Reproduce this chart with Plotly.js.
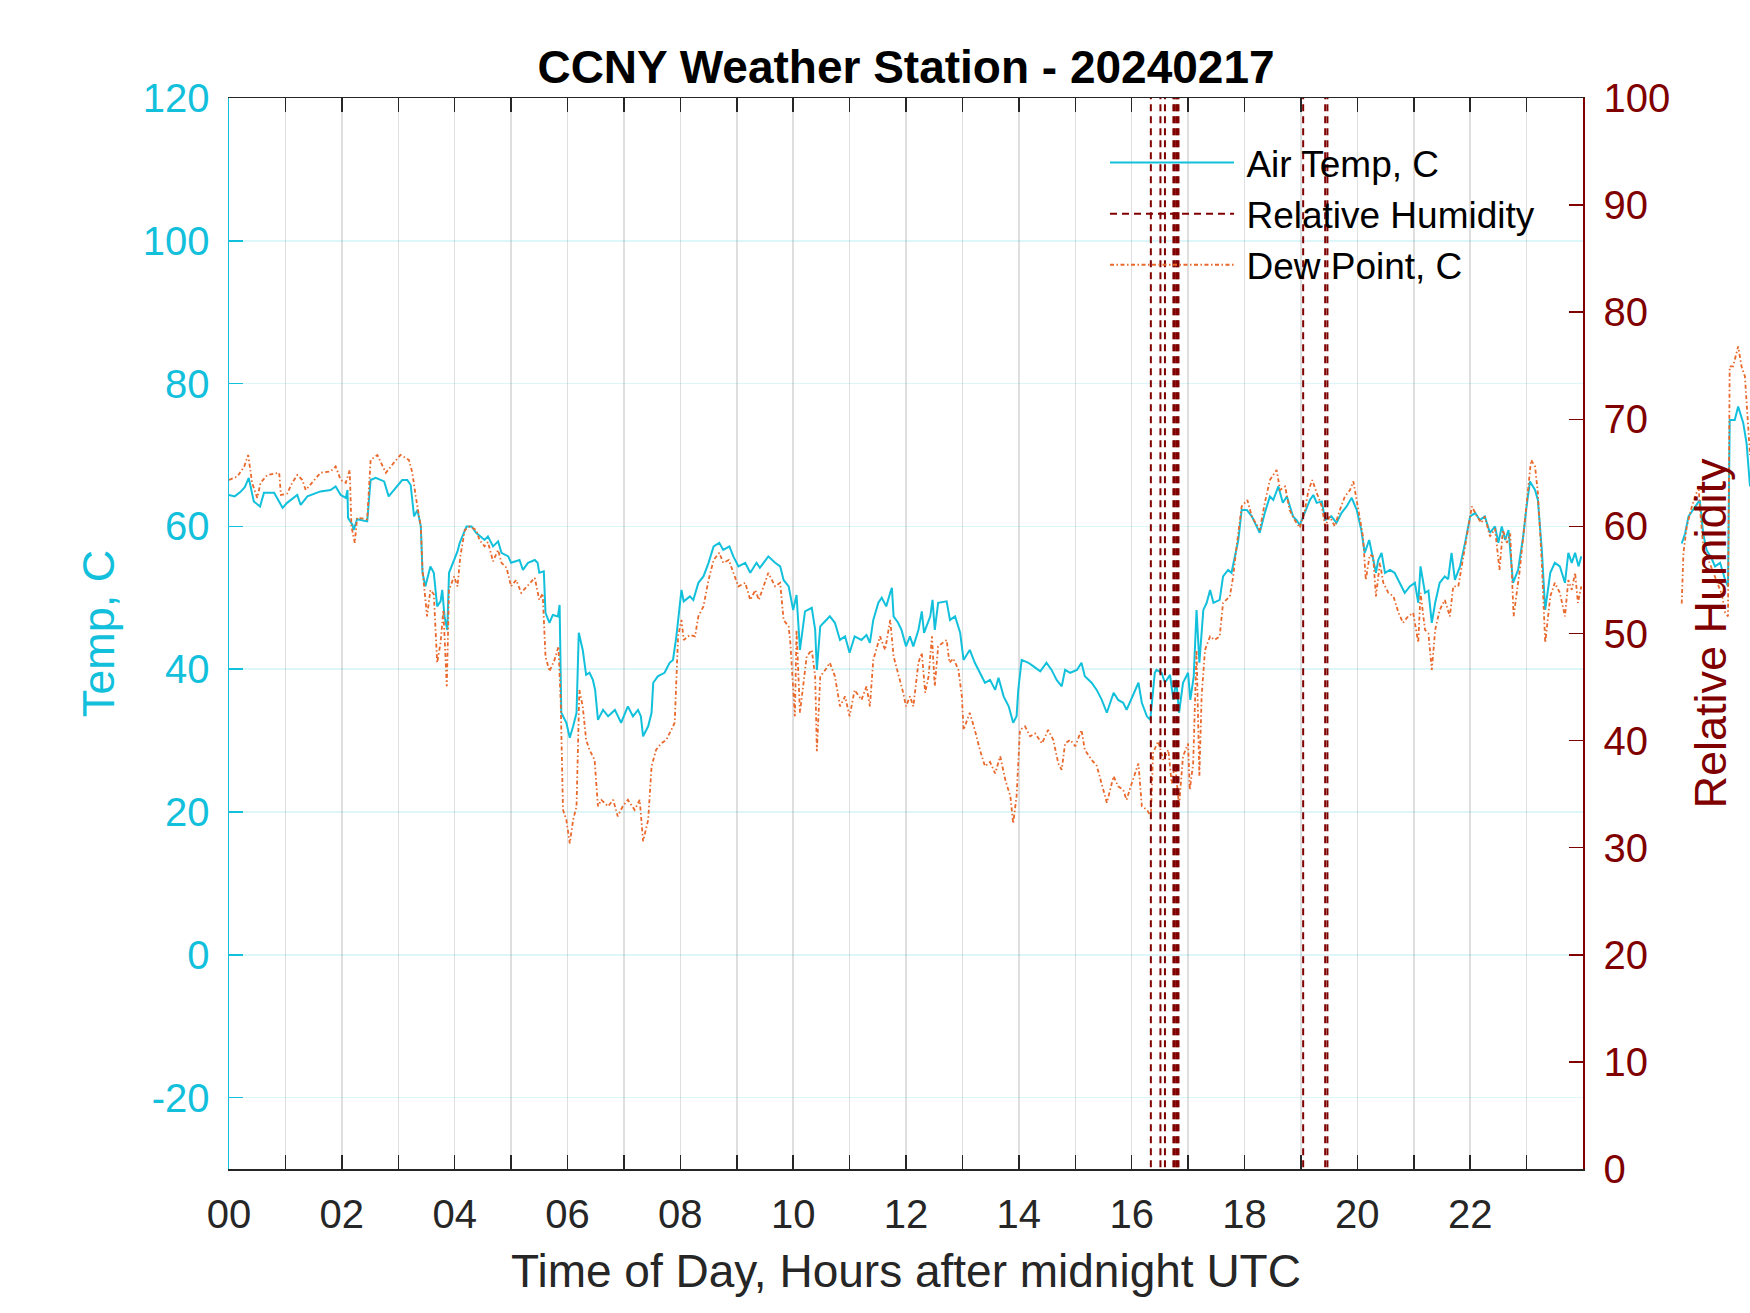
<!DOCTYPE html>
<html>
<head>
<meta charset="utf-8">
<script src="https://cdn.plot.ly/plotly-3.0.1.min.js"></script>
<style>
  html, body { margin: 0; padding: 0; background: #fff; }
  #chart { width: 1750px; height: 1313px; }
</style>
</head>
<body>
<div id="chart"></div>
<script>
/* CCNY weather station, 2024-02-17: temp and dew point on the left axis, RH on the right. */

/* ─── Data ─── */
// Air temperature, C (hours after midnight UTC); a null marks the missing stretch after 24h
const tempHours = [
  0.00, 0.10, 0.20, 0.28, 0.35, 0.44, 0.55, 0.62, 0.80, 0.95, 1.03, 1.21, 1.27, 1.39, 1.62, 1.80, 1.89, 1.98,
  2.07, 2.10, 2.11, 2.19, 2.21, 2.27, 2.45, 2.51, 2.60, 2.75, 2.83, 2.92, 3.07, 3.16, 3.22, 3.28, 3.34, 3.40,
  3.43, 3.48, 3.57, 3.63, 3.69, 3.75, 3.78, 3.82, 3.87, 3.90, 3.99, 4.05, 4.09, 4.21, 4.30, 4.38, 4.53, 4.59,
  4.68, 4.77, 4.83, 4.95, 5.00, 5.15, 5.21, 5.30, 5.42, 5.47, 5.50, 5.58, 5.61, 5.68, 5.74, 5.83, 5.86, 5.89,
  5.98, 6.04, 6.10, 6.16, 6.20, 6.27, 6.33, 6.39, 6.45, 6.49, 6.54, 6.63, 6.72, 6.84, 6.95, 7.07, 7.16, 7.25,
  7.30, 7.34, 7.43, 7.49, 7.52, 7.60, 7.72, 7.81, 7.87, 7.93, 8.02, 8.06, 8.17, 8.23, 8.32, 8.41, 8.50, 8.59,
  8.69, 8.76, 8.87, 8.94, 9.03, 9.15, 9.24, 9.35, 9.41, 9.56, 9.68, 9.77, 9.83, 9.92, 10.00, 10.06, 10.12, 10.21,
  10.33, 10.39, 10.42, 10.48, 10.54, 10.65, 10.74, 10.83, 10.92, 11.00, 11.09, 11.21, 11.30, 11.36, 11.42, 11.51,
  11.57, 11.65, 11.72, 11.75, 11.78, 11.86, 11.92, 12.00, 12.07, 12.13, 12.22, 12.28, 12.32, 12.43, 12.47, 12.51,
  12.57, 12.72, 12.78, 12.87, 12.96, 13.02, 13.13, 13.22, 13.31, 13.40, 13.49, 13.58, 13.64, 13.73, 13.82, 13.90,
  13.96, 13.99, 14.05, 14.17, 14.26, 14.38, 14.49, 14.58, 14.67, 14.76, 14.82, 14.91, 15.03, 15.11, 15.17, 15.29,
  15.38, 15.47, 15.56, 15.68, 15.76, 15.85, 15.91, 16.00, 16.12, 16.18, 16.27, 16.33, 16.41, 16.44, 16.53, 16.59,
  16.68, 16.74, 16.79, 16.84, 16.91, 17.00, 17.04, 17.10, 17.15, 17.20, 17.27, 17.33, 17.39, 17.45, 17.56, 17.62,
  17.71, 17.77, 17.83, 17.89, 17.95, 18.04, 18.13, 18.27, 18.36, 18.45, 18.51, 18.60, 18.68, 18.75, 18.86, 18.92,
  18.98, 19.07, 19.16, 19.22, 19.28, 19.37, 19.43, 19.54, 19.63, 19.72, 19.81, 19.90, 19.99, 20.07, 20.13, 20.21,
  20.28, 20.33, 20.37, 20.43, 20.49, 20.58, 20.66, 20.75, 20.84, 20.93, 21.02, 21.08, 21.12, 21.20, 21.26, 21.32,
  21.38, 21.46, 21.55, 21.61, 21.67, 21.73, 21.82, 21.91, 22.00, 22.09, 22.17, 22.26, 22.35, 22.44, 22.50, 22.56,
  22.62, 22.68, 22.76, 22.85, 22.94, 23.00, 23.06, 23.15, 23.20, 23.27, 23.33, 23.42, 23.50, 23.59, 23.68, 23.74,
  23.80, 23.86, 23.92, 23.97, 24.80,
  25.75, 25.81, 25.87, 25.95, 26.07, 26.13, 26.19, 26.28, 26.34, 26.43, 26.52, 26.57, 26.60, 26.69, 26.75, 26.84,
  26.90, 26.96
];
const tempValues = [
  64.4, 64.2, 64.8, 65.5, 66.8, 63.5, 62.8, 64.7, 64.7, 62.6, 63.3, 64.4, 63.0, 64.2, 64.9, 65.1, 65.6, 64.4,
  64.0, 65.1, 61.2, 60.2, 59.5, 61.0, 60.7, 66.5, 66.8, 66.3, 64.2, 65.1, 66.5, 66.5, 65.8, 61.4, 62.3, 60.0,
  53.5, 51.6, 54.4, 53.5, 48.8, 49.5, 51.1, 47.4, 45.5, 53.5, 55.3, 56.5, 57.7, 60.0, 60.0, 59.1, 58.1, 58.6,
  57.2, 57.9, 56.3, 55.8, 54.9, 55.3, 53.9, 54.9, 55.3, 54.9, 53.5, 53.7, 47.9, 46.5, 47.6, 47.4, 49.0, 33.9,
  32.5, 30.4, 32.0, 33.9, 45.1, 42.7, 39.2, 39.5, 38.5, 37.1, 32.9, 34.3, 33.4, 34.3, 32.5, 34.8, 33.4, 34.3,
  33.4, 30.6, 32.0, 33.9, 38.1, 39.0, 39.5, 40.9, 41.3, 44.6, 51.1, 49.5, 50.2, 49.7, 52.1, 53.0, 54.9, 57.2,
  57.7, 56.7, 57.2, 55.8, 54.4, 54.9, 53.5, 54.9, 54.2, 55.8, 54.9, 54.4, 52.5, 51.6, 48.3, 50.4, 42.7, 48.1,
  48.6, 45.5, 39.9, 46.0, 46.5, 47.4, 46.5, 44.1, 44.6, 42.3, 44.6, 44.1, 44.8, 43.7, 46.9, 49.3,
  50.0, 48.8, 50.7, 51.4, 47.4, 46.5, 45.5, 43.2, 44.6, 43.2, 45.5, 48.1, 45.1, 47.4, 49.7, 45.5,
  49.3, 49.5, 46.9, 47.4, 45.1, 41.3, 42.7, 40.9, 39.5, 38.1, 38.5, 37.1, 38.8, 36.2, 34.8, 32.5,
  33.4, 37.1, 41.3, 40.9, 40.4, 39.7, 40.9, 39.9, 38.5, 37.6, 39.9, 39.5, 39.9, 40.9, 39.0, 38.1,
  37.1, 35.7, 33.9, 36.7, 35.7, 35.3, 34.3, 35.9, 38.1, 35.3, 33.4, 32.9, 39.5, 39.9, 39.5, 38.1,
  39.2, 35.7, 38.5, 33.9, 38.1, 39.5, 35.7, 39.0, 48.3, 40.9, 48.3, 49.3, 51.1, 49.3, 49.7, 53.0,
  53.9, 53.5, 55.8, 58.1, 62.3, 62.3, 61.4, 59.1, 61.9, 64.2, 63.7, 65.6, 63.3, 64.2, 61.4, 60.9,
  60.2, 61.9, 63.7, 64.4, 63.3, 63.5, 60.9, 61.4, 60.5, 61.9, 62.8, 64.0, 62.3, 59.5, 56.3, 58.1,
  55.5, 53.5, 55.3, 56.3, 53.5, 53.9, 53.5, 52.1, 50.7, 51.6, 52.1, 49.3, 54.4, 50.7, 51.0, 46.5,
  49.3, 52.1, 53.0, 52.6, 56.3, 52.5, 54.4, 57.7, 61.4, 61.9, 60.9, 61.4, 59.1, 60.0, 57.7, 60.0,
  58.1, 59.5, 52.1, 53.9, 58.6, 62.8, 66.3, 65.1, 63.7, 56.7, 48.3, 53.5, 54.9, 54.4, 52.1, 56.3,
  54.9, 56.3, 54.4, 55.8, null,
  57.6, 59.0, 61.4, 62.3, 63.7, 59.0, 56.7, 55.5, 54.4, 54.9, 52.5, 51.6, 74.9, 74.9, 76.8, 74.5,
  71.6, 65.6
];

// Dew point, C
const dewHours = [
  0.00, 0.15, 0.27, 0.34, 0.41, 0.50, 0.56, 0.68, 0.89, 0.92, 1.03, 1.12, 1.21, 1.30, 1.36, 1.51, 1.62, 1.80,
  1.89, 1.98, 2.07, 2.14, 2.17, 2.23, 2.27, 2.45, 2.51, 2.63, 2.72, 2.78, 2.92, 3.04, 3.19, 3.25, 3.31, 3.37,
  3.40, 3.43, 3.48, 3.51, 3.57, 3.63, 3.69, 3.75, 3.80, 3.86, 3.90, 3.99, 4.05, 4.10, 4.18, 4.27, 4.38, 4.44,
  4.53, 4.59, 4.68, 4.77, 4.83, 4.92, 5.00, 5.09, 5.18, 5.33, 5.42, 5.50, 5.56, 5.61, 5.68, 5.77, 5.84, 5.88,
  5.92, 5.98, 6.04, 6.10, 6.16, 6.21, 6.27, 6.33, 6.39, 6.48, 6.54, 6.60, 6.72, 6.81, 6.89, 6.98, 7.07, 7.19,
  7.28, 7.34, 7.43, 7.49, 7.57, 7.66, 7.75, 7.84, 7.90, 7.96, 8.02, 8.06, 8.17, 8.26, 8.32, 8.41, 8.50, 8.59,
  8.69, 8.76, 8.86, 8.94, 9.03, 9.15, 9.24, 9.33, 9.39, 9.56, 9.68, 9.77, 9.83, 9.92, 9.95, 10.03, 10.06, 10.12,
  10.18, 10.24, 10.33, 10.39, 10.42, 10.48, 10.57, 10.65, 10.74, 10.83, 10.92, 11.00, 11.09, 11.21, 11.30, 11.36,
  11.42, 11.54, 11.63, 11.72, 11.78, 11.86, 11.95, 12.00, 12.07, 12.13, 12.22, 12.28, 12.34, 12.40, 12.46, 12.51,
  12.57, 12.72, 12.77, 12.84, 12.93, 12.99, 13.02, 13.13, 13.22, 13.31, 13.40, 13.49, 13.58, 13.67, 13.76, 13.85,
  13.90, 13.96, 14.02, 14.11, 14.20, 14.29, 14.41, 14.52, 14.61, 14.70, 14.76, 14.82, 14.91, 15.00, 15.11, 15.17,
  15.29, 15.38, 15.47, 15.56, 15.68, 15.76, 15.85, 15.91, 16.00, 16.12, 16.18, 16.27, 16.34, 16.38, 16.47, 16.56,
  16.65, 16.71, 16.77, 16.84, 16.91, 17.00, 17.03, 17.09, 17.15, 17.20, 17.24, 17.30, 17.39, 17.47, 17.56, 17.62,
  17.74, 17.80, 17.86, 17.95, 18.05, 18.13, 18.27, 18.36, 18.45, 18.57, 18.63, 18.72, 18.80, 18.89, 18.98, 19.07,
  19.13, 19.20, 19.28, 19.37, 19.43, 19.51, 19.60, 19.69, 19.78, 19.87, 19.93, 20.02, 20.10, 20.15, 20.22, 20.28,
  20.33, 20.40, 20.46, 20.55, 20.64, 20.73, 20.81, 20.90, 20.99, 21.08, 21.12, 21.20, 21.26, 21.32, 21.38, 21.46,
  21.55, 21.64, 21.70, 21.79, 21.88, 21.97, 22.03, 22.12, 22.20, 22.26, 22.35, 22.44, 22.52, 22.58, 22.65, 22.71,
  22.77, 22.88, 22.97, 23.03, 23.08, 23.15, 23.20, 23.27, 23.33, 23.42, 23.50, 23.59, 23.68, 23.74, 23.80, 23.86,
  23.91, 23.97, 24.80,
  25.75, 25.78, 25.84, 25.93, 26.05, 26.07, 26.13, 26.22, 26.31, 26.40, 26.46, 26.52, 26.57, 26.60, 26.66, 26.75,
  26.81, 26.87, 26.93, 26.96
];
const dewValues = [
  66.5, 67.0, 68.4, 70.0, 66.1, 64.0, 66.1, 67.2, 67.5, 64.4, 64.6, 66.1, 67.2, 66.5, 65.1, 66.5, 67.5, 67.7,
  68.4, 66.5, 66.1, 67.9, 60.0, 57.7, 61.2, 61.0, 69.3, 70.0, 68.6, 67.5, 68.9, 70.0, 69.3, 67.5, 64.2, 61.4,
  60.0, 53.9, 49.3, 47.4, 51.1, 50.5, 40.9, 43.7, 48.3, 37.6, 51.1, 53.0, 51.6, 55.8, 59.5, 60.0, 59.5, 58.1,
  57.2, 57.8, 55.1, 56.7, 54.9, 54.2, 51.6, 52.5, 50.7, 52.1, 52.8, 49.7, 50.6, 41.8, 39.7, 41.3, 43.2, 35.3,
  20.3, 18.9, 15.6, 18.9, 20.8, 37.1, 34.8, 30.1, 28.7, 27.3, 20.8, 21.7, 20.8, 21.7, 19.4, 20.8, 21.7, 20.3,
  21.7, 15.9, 18.9, 26.4, 28.7, 29.6, 30.1, 31.5, 32.5, 44.6, 46.9, 44.1, 44.8, 44.6, 47.4, 48.8, 52.5, 55.3,
  56.3, 54.9, 55.3, 53.5, 51.6, 52.1, 49.7, 51.1, 49.7, 53.5, 51.6, 52.1, 46.9, 46.0, 43.7, 33.4, 45.5, 33.9,
  38.1, 41.8, 42.7, 39.0, 28.5, 39.0, 39.9, 40.9, 39.0, 34.8, 36.2, 33.4, 37.1, 35.7, 37.6, 34.8,
  41.3, 44.6, 42.7, 46.9, 41.8, 39.5, 36.7, 34.8, 36.2, 34.8, 40.9, 42.3, 36.7, 39.0, 44.6, 37.6,
  43.2, 44.1, 40.9, 41.5, 39.9, 36.2, 31.5, 33.9, 31.5, 28.7, 26.4, 27.0, 25.4, 27.8, 24.5, 22.2,
  18.4, 22.2, 31.5, 32.0, 30.6, 31.0, 29.6, 31.5, 30.1, 26.8, 25.9, 29.6, 30.1, 29.2, 31.5, 28.7,
  27.3, 26.5, 24.0, 21.3, 25.0, 23.6, 23.1, 21.7, 24.0, 26.8, 20.8, 20.3, 19.4, 28.3, 29.9, 27.3,
  28.7, 24.0, 26.8, 20.8, 27.8, 29.6, 23.1, 26.8, 42.7, 25.0, 36.2, 42.7, 44.6, 44.1, 44.6, 49.3,
  50.2, 53.0, 57.2, 62.8, 63.7, 61.4, 59.5, 63.3, 66.5, 67.9, 65.1, 65.6, 62.3, 60.9, 59.8, 62.3,
  64.9, 66.5, 64.7, 62.8, 60.0, 61.4, 60.0, 62.3, 64.2, 65.1, 66.3, 62.3, 58.6, 52.5, 56.0, 55.8,
  50.2, 54.9, 52.1, 50.7, 50.2, 47.9, 46.5, 47.4, 47.9, 43.7, 50.7, 45.5, 45.0, 39.9, 45.5, 48.3,
  49.7, 47.4, 51.6, 51.6, 55.8, 60.5, 62.8, 61.4, 60.5, 61.4, 58.6, 59.7, 53.9, 59.5, 57.7, 59.0,
  47.4, 53.9, 60.9, 64.7, 69.3, 68.4, 64.7, 54.9, 43.7, 50.2, 52.1, 50.7, 47.4, 52.5, 51.1, 53.5,
  49.3, 51.6, null,
  49.2, 56.3, 60.0, 62.8, 65.6, 62.8, 57.2, 55.3, 53.5, 51.6, 50.5, 47.9, 47.4, 82.4, 82.4, 85.2,
  82.4, 81.0, 74.0, 70.0
];

// Relative humidity: only off-scale readings that jump across the whole axis show up
const rhJumpHours = [16.34, 16.51, 16.59, 16.74, 16.76, 16.79, 16.81, 16.83, 19.04, 19.43, 19.47];
const rhLow = -20;
const rhHigh = 120;

// Axis ticks
const hourTicks = Array.from({ length: 24 }, (_, h) => h);
const hourLabels = hourTicks.map(h => (h % 2 === 0 ? String(h).padStart(2, '0') : ''));
const tempTicks = [-20, 0, 20, 40, 60, 80, 100, 120];
const tempLabels = ['-20', '0', '20', '40', '60', '80', '100', '120'];
const rhTicks = [0, 10, 20, 30, 40, 50, 60, 70, 80, 90, 100];

/* ─── Style ─── */
const FONT = 'Liberation Sans, Arial, Helvetica, sans-serif';
const CYAN = '#12c0dc';
const ORANGE = '#e9682c';
const DARKRED = '#800000';
const INK = '#262626';
const GAP = '\u2009';   // a bit of extra room between legend line and label

// the picture spills past 24 h on the right, so a hidden second panel carries that part
const MAIN_RIGHT = 1354 / 1521;
const OVER_END = 24 + (1750 - 1583) / 56.42;

/* ─── Traces ─── */
const rhX = [];
const rhY = [];
rhJumpHours.forEach(h => {
  rhX.push(h, h, null);
  rhY.push(rhLow, rhHigh, null);
});

const tempLine = { color: CYAN, width: 2 };
const dewLine = { color: ORANGE, width: 1.8, dash: '4px,2.5px,1.5px,2.5px' };

const traces = [
  {
    x: tempHours, y: tempValues, xaxis: 'x', yaxis: 'y',
    mode: 'lines', line: tempLine, name: GAP + 'Air Temp, C',
  },
  {
    x: rhX, y: rhY, xaxis: 'x', yaxis: 'y2',
    mode: 'lines', line: { color: DARKRED, width: 2, dash: '7px,5px' },
    name: GAP + 'Relative Humidity',
  },
  {
    x: dewHours, y: dewValues, xaxis: 'x', yaxis: 'y',
    mode: 'lines', line: dewLine, name: GAP + 'Dew Point, C',
  },
  {
    x: tempHours, y: tempValues, xaxis: 'x3', yaxis: 'y3',
    mode: 'lines', line: tempLine, showlegend: false,
  },
  {
    x: dewHours, y: dewValues, xaxis: 'x3', yaxis: 'y3',
    mode: 'lines', line: dewLine, showlegend: false,
  },
];

const layout = {
  width: 1750,
  height: 1313,
  paper_bgcolor: '#ffffff',
  plot_bgcolor: 'rgba(0,0,0,0)',
  margin: { l: 229, r: 0, t: 98, b: 144 },
  font: { family: FONT, color: INK, size: 40 },
  showlegend: true,
  hovermode: false,
  title: {
    text: '<b>CCNY Weather Station - 20240217</b>',
    font: { family: FONT, size: 46, color: '#000000' },
    x: 906 / 1750, xanchor: 'center',
    y: 1 - 67 / 1313, yanchor: 'middle',
  },
  legend: {
    x: (1105 - 229) / 1521, xanchor: 'left',
    y: 1 - (132 - 98) / 1071, yanchor: 'top',
    bgcolor: 'rgba(0,0,0,0)',
    borderwidth: 0,
    itemwidth: 124,
    font: { family: FONT, size: 37, color: '#000000' },
  },
  xaxis: {
    domain: [0, MAIN_RIGHT],
    range: [0, 24],
    tickmode: 'array',
    tickvals: hourTicks,
    ticktext: hourLabels,
    ticks: 'inside', ticklen: 14, tickwidth: 1.5, tickcolor: INK,
    showline: true, linecolor: INK, linewidth: 1.5, mirror: 'ticks',
    showgrid: true, gridcolor: 'rgba(38,38,38,0.15)', gridwidth: 1.5,
    zeroline: false,
    tickfont: { family: FONT, size: 40, color: INK },
    ticklabelstandoff: 9,
    title: {
      text: 'Time of Day, Hours after midnight UTC',
      font: { family: FONT, size: 46, color: INK },
      standoff: 20,
    },
  },
  yaxis: {
    range: [-30, 120],
    tickmode: 'array',
    tickvals: tempTicks,
    ticktext: tempLabels,
    ticks: 'inside', ticklen: 14, tickwidth: 1.5, tickcolor: CYAN,
    showline: true, linecolor: CYAN, linewidth: 1.5,
    showgrid: true, gridcolor: 'rgba(18,192,220,0.15)', gridwidth: 1.5,
    zeroline: false,
    tickfont: { family: FONT, size: 40, color: CYAN },
    ticklabelstandoff: 10,
    title: {
      text: 'Temp, C',
      font: { family: FONT, size: 45, color: CYAN },
      standoff: 14,
    },
  },
  yaxis2: {
    overlaying: 'y',
    side: 'right',
    anchor: 'x',
    range: [0, 100],
    tickmode: 'array',
    tickvals: rhTicks,
    ticks: 'inside', ticklen: 14, tickwidth: 1.5, tickcolor: DARKRED,
    showline: true, linecolor: DARKRED, linewidth: 1.5,
    showgrid: false,
    zeroline: false,
    tickfont: { family: FONT, size: 40, color: DARKRED },
    ticklabelstandoff: 11,
    title: {
      text: 'Relative Humidity',
      font: { family: FONT, size: 45, color: DARKRED },
      standoff: 25,
    },
  },
  xaxis3: {
    domain: [MAIN_RIGHT, 1],
    range: [24, OVER_END],
    anchor: 'y3',
    visible: false,
  },
  yaxis3: {
    domain: [0, 1],
    range: [-30, 120],
    anchor: 'x3',
    visible: false,
  },
};

Plotly.newPlot('chart', traces, layout, { displayModeBar: false, staticPlot: true });
</script>
</body>
</html>
